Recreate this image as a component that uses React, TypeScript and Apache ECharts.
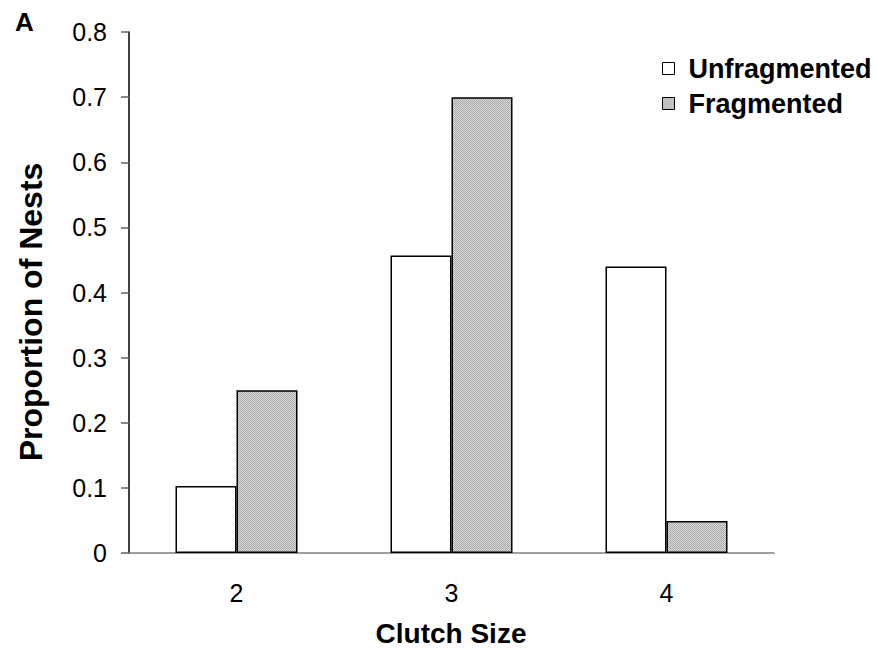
import React, { useEffect, useRef } from "react";
import * as echarts from "echarts";

const categories = ["2", "3", "4"];
const unfragmented = [0.103, 0.457, 0.44];
const fragmented = [0.25, 0.7, 0.049];
const yTicks = { min: 0, max: 0.8, interval: 0.1 };
const xTitle = "Clutch Size";
const yTitle = "Proportion of Nests";
const panelLabel = "A";

function makePattern(): HTMLCanvasElement {
  const c = document.createElement("canvas");
  c.width = 2;
  c.height = 2;
  const ctx = c.getContext("2d")!;
  ctx.fillStyle = "#dadada";
  ctx.fillRect(0, 0, 2, 2);
  ctx.fillStyle = "#a8a8a8";
  ctx.fillRect(0, 0, 1, 1);
  ctx.fillRect(1, 1, 1, 1);
  return c;
}

export default function App() {
  const ref = useRef<HTMLDivElement>(null);
  useEffect(() => {
    if (!ref.current) return;
    const chart = echarts.init(ref.current, undefined, { renderer: "svg" });
    const pattern = { image: makePattern(), repeat: "repeat" } as any;
    const font = "'Liberation Sans', Arial, sans-serif";
    chart.setOption({
      animation: false,
      textStyle: { fontFamily: font },
      grid: { left: 129, right: 103, top: 32, bottom: 109 },
      graphic: [
        {
          type: "text",
          x: 15,
          y: 22,
          style: { text: panelLabel, font: `bold 26px ${font}`, fill: "#000", textVerticalAlign: "middle" },
        },
        {
          type: "text",
          x: 451,
          y: 633,
          style: { text: xTitle, font: `bold 28px ${font}`, fill: "#000", textAlign: "center", textVerticalAlign: "middle" },
        },
        {
          type: "text",
          x: 31,
          y: 312,
          rotation: Math.PI / 2,
          style: { text: yTitle, font: `bold 32px ${font}`, fill: "#000", textAlign: "center", textVerticalAlign: "middle" },
        },
      ],
      legend: {
        orient: "vertical",
        left: 657,
        top: 50,
        icon: "rect",
        itemWidth: 12,
        itemHeight: 12,
        itemGap: 8,
        textStyle: { fontSize: 27, fontWeight: "bold", color: "#000", fontFamily: font, padding: [0, 0, 0, 9] },
        data: [
          { name: "Unfragmented", itemStyle: { color: "#fff", borderColor: "#000", borderWidth: 1 } },
          { name: "Fragmented", itemStyle: { color: pattern, borderColor: "#000", borderWidth: 1 } },
        ],
      },
      xAxis: {
        type: "category",
        data: categories,
        axisLine: { lineStyle: { color: "#808080", width: 1.5 } },
        axisTick: { length: 8, lineStyle: { color: "#808080", width: 1.5 } },
        axisLabel: { fontSize: 25, color: "#000", margin: 27, fontFamily: font },
      },
      yAxis: {
        type: "value",
        min: yTicks.min,
        max: yTicks.max,
        interval: yTicks.interval,
        axisLine: { show: true, lineStyle: { color: "#000", width: 1.5 } },
        axisTick: { show: true, length: 8, lineStyle: { color: "#606060", width: 1.5 } },
        splitLine: { show: false },
        axisLabel: { fontSize: 25, color: "#000", margin: 22, fontFamily: font },
      },
      series: [
        {
          name: "Unfragmented",
          type: "bar",
          data: unfragmented,
          barWidth: 61,
          barGap: "0%",
          itemStyle: { color: "#fff", borderColor: "#000", borderWidth: 1.5 },
        },
        {
          name: "Fragmented",
          type: "bar",
          data: fragmented,
          barWidth: 61,
          barGap: "0%",
          itemStyle: { color: pattern, borderColor: "#000", borderWidth: 1.5 },
        },
      ],
    });
    return () => chart.dispose();
  }, []);
  return (
    <div
      ref={ref}
      style={{ position: "absolute", left: 0, top: 0, width: 877, height: 662, background: "#fff" }}
    />
  );
}
